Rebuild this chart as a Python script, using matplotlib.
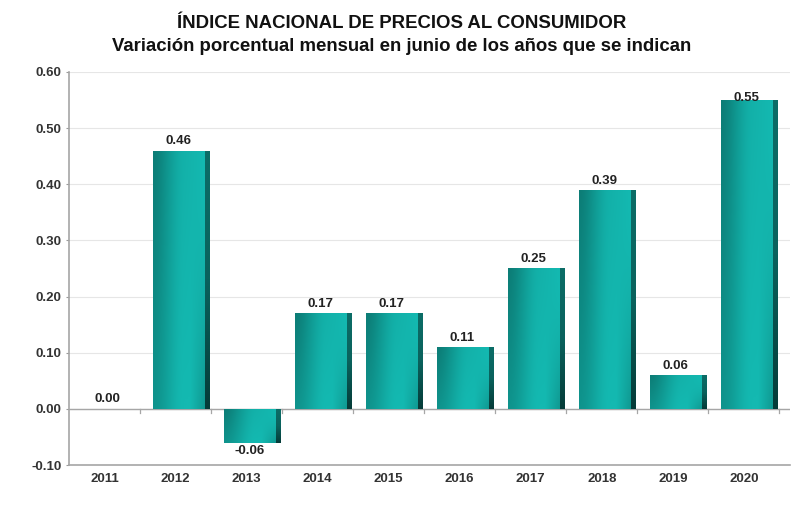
import numpy as np
import matplotlib.pyplot as plt
from matplotlib.colors import LinearSegmentedColormap
from matplotlib.patches import Rectangle

years = ["2011", "2012", "2013", "2014", "2015", "2016", "2017", "2018", "2019", "2020"]
values = [0.00, 0.46, -0.06, 0.17, 0.17, 0.11, 0.25, 0.39, 0.06, 0.55]
labels = ["0.00", "0.46", "-0.06", "0.17", "0.17", "0.11", "0.25", "0.39", "0.06", "0.55"]
yticks = [-0.10, 0.00, 0.10, 0.20, 0.30, 0.40, 0.50, 0.60]

plt.rcParams["font.family"] = ["Liberation Sans", "DejaVu Sans"]

fig = plt.figure(figsize=(8.04, 5.14), dpi=100)
ax = fig.add_axes([0.0858, 0.0953, 0.8968, 0.7647])

face_cmap = LinearSegmentedColormap.from_list("face", ["#0a6a64", "#0f948d", "#14b9b1"])
side_cmap = LinearSegmentedColormap.from_list("side", ["#053b38", "#0a625d", "#0c6d67"])

# bar geometry relative to category centre (bars sit right of centre)
bar_left = -0.32
bar_right = 0.47
side_w = 0.06
x = np.arange(len(years))

# shading for the bar face: darker top-left, bright middle, shadow bottom-right
u = np.linspace(0, 1, 200)
v = np.linspace(0, 1, 120)
U, V = np.meshgrid(u, v)
s = np.clip(U / 0.6, 0, 1)
face = 0.5 + 0.5 * (3 * s**2 - 2 * s**3)
face -= 0.28 * V * (1 - U)
face -= 0.45 * np.clip((U - 0.72) / 0.28, 0, 1) * (1 - V) ** 2
face = np.clip(face, 0, 1)
side = np.tile(np.linspace(0, 1, 120)[:, None], (1, 4))

for xi, val in zip(x, values):
    if val == 0:
        continue
    x0 = xi + bar_left
    x1 = xi + bar_right - side_w
    y0, y1 = min(0, val), max(0, val)
    im = ax.imshow(face, extent=[x0, x1, y0, y1], origin="lower", cmap=face_cmap,
                   aspect="auto", zorder=3, interpolation="bilinear", vmin=0, vmax=1)
    im.set_clip_path(Rectangle((x0, y0), x1 - x0, y1 - y0, transform=ax.transData))
    im2 = ax.imshow(side, extent=[x1, x1 + side_w, y0, y1], origin="lower",
                    cmap=side_cmap, aspect="auto", zorder=3, vmin=0, vmax=1)
    im2.set_clip_path(Rectangle((x1, y0), side_w, y1 - y0, transform=ax.transData))

for xi, val, lab in zip(x, values, labels):
    lx = xi + 0.04
    if val < 0:
        ax.text(lx, val - 0.004, lab, ha="center", va="top", fontsize=9.5,
                fontweight="bold", color="#222222", zorder=5)
    elif val > 0.5:
        ax.text(lx, val - 0.007, lab, ha="center", va="bottom", fontsize=9.5,
                fontweight="bold", color="#222222", zorder=5)
    else:
        ax.text(lx, val + 0.006, lab, ha="center", va="bottom", fontsize=9.5,
                fontweight="bold", color="#222222", zorder=5)

n = len(years)
ax.set_xlim(-0.5, n - 0.35)
ax.set_ylim(-0.10, 0.60)
ax.set_yticks(yticks)
ax.set_yticklabels([f"{t:.2f}" for t in yticks], fontsize=9.5, fontweight="bold",
                   color="#333333")
ax.set_xticks(x)
ax.set_xticklabels(years, fontsize=9.5, fontweight="bold", color="#333333")
ax.tick_params(axis="x", length=0, pad=6)
ax.tick_params(axis="y", length=2, color="#999999", pad=3.5)

ax.grid(axis="y", color="#e6e6e6", linewidth=0.8, zorder=0)
ax.axhline(0, color="#a6a6a6", linewidth=1.0, zorder=2)
for b in np.arange(0.5, n, 1.0):
    ax.plot([b, b], [0, -0.008], color="#a6a6a6", linewidth=0.9, zorder=2)

for sp in ["top", "right"]:
    ax.spines[sp].set_visible(False)
for sp in ["left", "bottom"]:
    ax.spines[sp].set_color("#a6a6a6")
    ax.spines[sp].set_linewidth(1.2)

fig.text(0.5, 0.955, "ÍNDICE NACIONAL DE PRECIOS AL CONSUMIDOR", ha="center",
         va="center", fontsize=13.4, fontweight="bold", color="#111111")
fig.text(0.5, 0.91, "Variación porcentual mensual en junio de los años que se indican",
         ha="center", va="center", fontsize=13.4, fontweight="bold", color="#111111")

fig.savefig("out.png", dpi=100)
